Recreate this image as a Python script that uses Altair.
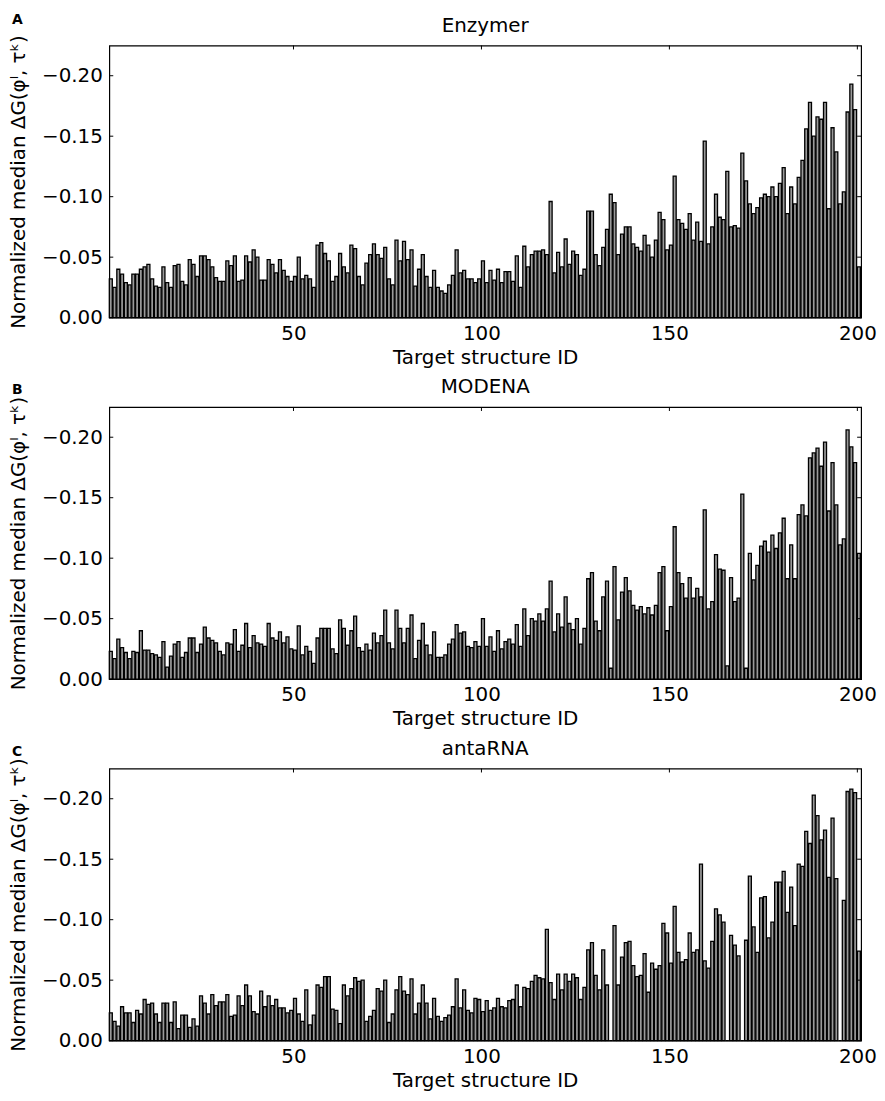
import altair as alt
import pandas as pd

ids = list(range(1, 201))

enzymer = [
    -0.032, -0.025, -0.040, -0.036, -0.029, -0.027, -0.036, -0.036, -0.040, -0.042,
    -0.044, -0.032, -0.026, -0.025, -0.042, -0.029, -0.025, -0.043, -0.044, -0.030,
    -0.027, -0.048, -0.044, -0.034, -0.051, -0.051, -0.048, -0.042, -0.033, -0.030,
    -0.030, -0.047, -0.043, -0.051, -0.030, -0.031, -0.051, -0.046, -0.056, -0.050,
    -0.031, -0.031, -0.048, -0.044, -0.037, -0.048, -0.039, -0.034, -0.030, -0.034,
    -0.050, -0.032, -0.035, -0.032, -0.025, -0.060, -0.062, -0.053, -0.047, -0.030,
    -0.034, -0.053, -0.042, -0.037, -0.060, -0.057, -0.034, -0.027, -0.045, -0.052,
    -0.061, -0.052, -0.049, -0.058, -0.032, -0.027, -0.064, -0.047, -0.063, -0.048,
    -0.056, -0.026, -0.040, -0.052, -0.034, -0.025, -0.039, -0.025, -0.022, -0.020,
    -0.027, -0.035, -0.056, -0.037, -0.039, -0.032, -0.032, -0.029, -0.032, -0.047,
    -0.029, -0.039, -0.031, -0.040, -0.029, -0.038, -0.038, -0.030, -0.051, -0.025,
    -0.059, -0.042, -0.052, -0.055, -0.055, -0.056, -0.052, -0.096, -0.037, -0.054,
    -0.042, -0.065, -0.044, -0.055, -0.052, -0.035, -0.040, -0.088, -0.088, -0.052,
    -0.043, -0.058, -0.073, -0.102, -0.095, -0.052, -0.069, -0.075, -0.075, -0.061,
    -0.058, -0.055, -0.068, -0.060, -0.050, -0.064, -0.087, -0.081, -0.056, -0.060,
    -0.117, -0.081, -0.078, -0.073, -0.086, -0.064, -0.079, -0.063, -0.146, -0.061,
    -0.075, -0.102, -0.083, -0.081, -0.121, -0.075, -0.076, -0.074, -0.136, -0.113,
    -0.094, -0.086, -0.091, -0.099, -0.102, -0.100, -0.108, -0.100, -0.111, -0.124,
    -0.086, -0.108, -0.094, -0.116, -0.130, -0.156, -0.178, -0.150, -0.166, -0.164,
    -0.178, -0.090, -0.157, -0.137, -0.094, -0.104, -0.170, -0.193, -0.172, -0.042,
]

modena = [
    -0.023, -0.017, -0.033, -0.026, -0.022, -0.017, -0.023, -0.022, -0.040, -0.024,
    -0.024, -0.021, -0.020, -0.018, -0.031, -0.010, -0.019, -0.029, -0.031, -0.018,
    -0.022, -0.034, -0.034, -0.022, -0.029, -0.043, -0.034, -0.032, -0.030, -0.023,
    -0.020, -0.030, -0.029, -0.041, -0.023, -0.028, -0.046, -0.026, -0.036, -0.030,
    -0.029, -0.027, -0.046, -0.034, -0.032, -0.039, -0.030, -0.035, -0.025, -0.024,
    -0.044, -0.020, -0.027, -0.023, -0.013, -0.034, -0.042, -0.042, -0.042, -0.025,
    -0.021, -0.049, -0.042, -0.028, -0.040, -0.052, -0.026, -0.023, -0.029, -0.024,
    -0.038, -0.030, -0.036, -0.057, -0.030, -0.025, -0.057, -0.042, -0.030, -0.042,
    -0.053, -0.017, -0.032, -0.046, -0.028, -0.020, -0.039, -0.018, -0.018, -0.020,
    -0.029, -0.033, -0.045, -0.038, -0.039, -0.027, -0.026, -0.031, -0.027, -0.050,
    -0.027, -0.035, -0.023, -0.040, -0.025, -0.031, -0.033, -0.029, -0.045, -0.027,
    -0.058, -0.036, -0.050, -0.048, -0.054, -0.048, -0.058, -0.081, -0.039, -0.054,
    -0.043, -0.068, -0.046, -0.041, -0.050, -0.029, -0.042, -0.083, -0.088, -0.048,
    -0.040, -0.068, -0.081, -0.009, -0.093, -0.049, -0.072, -0.084, -0.073, -0.061,
    -0.057, -0.060, -0.054, -0.059, -0.053, -0.061, -0.088, -0.093, -0.040, -0.060,
    -0.126, -0.088, -0.079, -0.067, -0.084, -0.067, -0.075, -0.068, -0.140, -0.058,
    -0.064, -0.103, -0.091, -0.090, -0.011, -0.084, -0.064, -0.067, -0.153, -0.009,
    -0.104, -0.082, -0.094, -0.110, -0.114, -0.105, -0.119, -0.108, -0.121, -0.133,
    -0.083, -0.111, -0.083, -0.136, -0.144, -0.135, -0.183, -0.187, -0.191, -0.176,
    -0.196, -0.139, -0.179, -0.144, -0.111, -0.116, -0.206, -0.192, -0.179, -0.104,
]

antarna = [
    -0.023, -0.016, -0.012, -0.028, -0.023, -0.023, -0.015, -0.025, -0.022, -0.034,
    -0.030, -0.031, -0.022, -0.015, -0.031, -0.031, -0.015, -0.032, -0.010, -0.021,
    -0.021, -0.011, -0.018, -0.012, -0.037, -0.031, -0.022, -0.038, -0.029, -0.032,
    -0.032, -0.038, -0.020, -0.021, -0.037, -0.029, -0.046, -0.037, -0.024, -0.022,
    -0.041, -0.028, -0.037, -0.029, -0.034, -0.027, -0.027, -0.023, -0.025, -0.035,
    -0.022, -0.016, -0.042, -0.013, -0.021, -0.046, -0.044, -0.053, -0.053, -0.026,
    -0.025, -0.014, -0.046, -0.037, -0.043, -0.052, -0.049, -0.050, -0.016, -0.020,
    -0.025, -0.043, -0.041, -0.050, -0.015, -0.022, -0.042, -0.053, -0.041, -0.038,
    -0.051, -0.022, -0.031, -0.046, -0.031, -0.018, -0.035, -0.020, -0.016, -0.019,
    -0.021, -0.028, -0.051, -0.027, -0.042, -0.025, -0.023, -0.035, -0.034, -0.024,
    -0.033, -0.025, -0.027, -0.035, -0.028, -0.027, -0.033, -0.034, -0.046, -0.028,
    -0.044, -0.043, -0.049, -0.054, -0.052, -0.051, -0.092, -0.048, -0.034, -0.055,
    -0.042, -0.055, -0.049, -0.055, -0.052, -0.034, -0.044, -0.075, -0.081, -0.054,
    -0.042, -0.075, -0.046, 0.000, -0.095, -0.046, -0.069, -0.081, -0.082, -0.062,
    -0.053, -0.054, -0.072, -0.040, -0.064, -0.059, -0.062, -0.097, -0.089, -0.064,
    -0.111, -0.073, -0.065, -0.067, -0.089, -0.073, -0.075, -0.146, -0.066, -0.060,
    -0.082, -0.109, -0.104, -0.098, 0.000, -0.087, -0.079, -0.070, 0.000, -0.083,
    -0.136, -0.094, -0.073, -0.118, -0.119, -0.085, -0.098, -0.131, -0.131, -0.140,
    -0.106, -0.127, -0.095, -0.146, -0.144, -0.173, -0.163, -0.203, -0.186, -0.166,
    -0.174, -0.135, -0.184, -0.134, 0.000, -0.116, -0.206, -0.208, -0.205, -0.074,
]

titles = ["Enzymer", "MODENA", "antaRNA"]
letters = ["A", "B", "C"]
y_ticks = [0.0, -0.05, -0.10, -0.15, -0.20]
x_ticks = [50, 100, 150, 200]
y_title = "Normalized median \u0394G(\u03c6\u02e1, \u03c4\u1d4f)"
x_title = "Target structure ID"

assert len(enzymer) == 200 and len(modena) == 200 and len(antarna) == 200

W, H = 757, 274
FONT = "DejaVu Sans"
TL = 4  # inward tick length


def panel(vals, title, letter, letter_y):
    df = pd.DataFrame({"id": ids, "value": vals})
    xs = alt.Scale(domain=[1, 201], nice=False, zero=False)
    ys = alt.Scale(domain=[-0.225, 0], reverse=True, nice=False, zero=False)
    xax = alt.Axis(values=x_ticks, title=x_title, labelFlush=False,
                   labelPadding=6, titlePadding=4)
    yax = alt.Axis(values=y_ticks, format=".2f", title=y_title,
                   labelPadding=7, titlePadding=13)

    bars = (
        alt.Chart(df)
        .transform_calculate(end="datum.id + 0.8", zero="0")
        .mark_rect(fill="#9a9a9a", stroke="black", strokeWidth=1.3)
        .encode(
            x=alt.X("id:Q", scale=xs, axis=xax),
            x2="end:Q",
            y=alt.Y("value:Q", scale=ys, axis=yax),
            y2="zero:Q",
        )
    )

    ydf = pd.DataFrame({"value": y_ticks})
    xdf = pd.DataFrame({"id": x_ticks})
    rule = dict(color="black", strokeWidth=1)
    left = alt.Chart(ydf).mark_rule(**rule).encode(
        y=alt.Y("value:Q", scale=ys, axis=yax), x=alt.value(0), x2=alt.value(TL))
    right = alt.Chart(ydf).mark_rule(**rule).encode(
        y=alt.Y("value:Q", scale=ys, axis=yax), x=alt.value(W - TL), x2=alt.value(W))
    top = alt.Chart(xdf).mark_rule(**rule).encode(
        x=alt.X("id:Q", scale=xs, axis=xax), y=alt.value(0), y2=alt.value(TL))
    bottom = alt.Chart(xdf).mark_rule(**rule).encode(
        x=alt.X("id:Q", scale=xs, axis=xax), y=alt.value(H - TL), y2=alt.value(H))

    ldf = pd.DataFrame({"t": [letter]})
    lt = alt.Chart(ldf).mark_text(font=FONT, fontSize=14, fontWeight="bold",
                                  align="left", baseline="top", color="black").encode(
        text="t:N", x=alt.value(-98), y=alt.value(letter_y))

    tdf = pd.DataFrame({"t": [title]})
    tt = alt.Chart(tdf).mark_text(font=FONT, fontSize=20, align="center",
                                  baseline="alphabetic", color="black").encode(
        text="t:N", x=alt.value(W / 2), y=alt.value(-14))

    return alt.layer(bars, left, right, top, bottom, lt, tt).properties(
        width=W, height=H)


chart = (
    alt.vconcat(
        panel(enzymer, titles[0], letters[0], -33),
        panel(modena, titles[1], letters[1], -24),
        panel(antarna, titles[2], letters[2], -24),
        spacing=8,
    )
    .properties(padding=0)
    .configure_view(stroke="black", strokeWidth=1.2)
    .configure_axis(labelFont=FONT, titleFont=FONT, labelFontSize=20, titleFontSize=20,
                    titleFontWeight="normal", grid=False, ticks=False, domain=False,
                    labelColor="black", titleColor="black")
)

chart.save("out.html", embed_options={"renderer": "svg", "actions": False})
